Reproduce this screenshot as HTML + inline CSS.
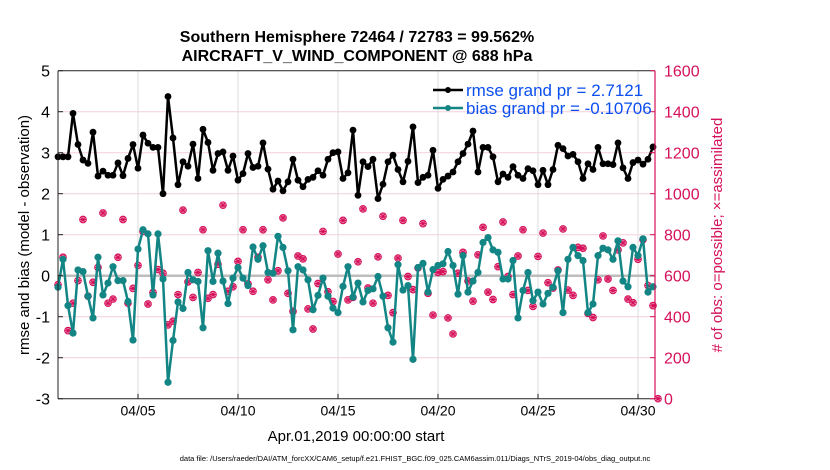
<!DOCTYPE html>
<html><head><meta charset="utf-8"><style>
body{margin:0;background:#fff;}
svg{display:block;font-family:"Liberation Sans",sans-serif;}
</style></head><body>
<svg id="chart" width="830" height="470" xmlns="http://www.w3.org/2000/svg">
<rect width="830" height="470" fill="#fff"/>
<text x="357" y="42" text-anchor="middle" font-size="16" font-weight="bold">Southern Hemisphere 72464 / 72783 = 99.562%</text>
<text x="357" y="61" text-anchor="middle" font-size="16" font-weight="bold">AIRCRAFT_V_WIND_COMPONENT @ 688 hPa</text>
<g id="grid"></g>
<g id="marks"></g>
<g id="axes"></g>
<g id="legend">
 <line x1="433" y1="90" x2="463" y2="90" stroke="#000" stroke-width="2.5"/>
 <circle cx="448" cy="90" r="3" fill="#000"/>
 <text x="466" y="96" font-size="17" fill="#0b4ff0">rmse grand pr = 2.7121</text>
 <line x1="433" y1="108" x2="463" y2="108" stroke="#138585" stroke-width="2.5"/>
 <circle cx="448" cy="108" r="3" fill="#138585"/>
 <text x="466" y="114" font-size="17" fill="#0b4ff0">bias grand pr = -0.10706</text>
</g>
<text transform="translate(29,235) rotate(-90)" text-anchor="middle" font-size="15">rmse and bias (model - observation)</text>
<text transform="translate(722,235) rotate(-90)" text-anchor="middle" font-size="15" fill="#d6105a"># of obs: o=possible; ×=assimilated</text>
<text x="356" y="441" text-anchor="middle" font-size="15">Apr.01,2019 00:00:00 start</text>
<text x="415" y="461" text-anchor="middle" font-size="7.5">data file: /Users/raeder/DAI/ATM_forcXX/CAM6_setup/f.e21.FHIST_BGC.f09_025.CAM6assim.011/Diags_NTrS_2019-04/obs_diag_output.nc</text>
</svg>
<script>
const rmse=[2.9,2.9,2.9,3.96,3.2,2.82,2.74,3.5,2.43,2.55,2.45,2.45,2.75,2.44,2.86,3.2,2.62,3.43,3.23,3.13,
3.13,2.0,4.37,3.36,2.22,2.78,2.67,3.21,2.37,3.57,3.25,2.57,2.98,3.02,2.57,2.92,2.33,2.49,2.98,2.64,
2.67,3.24,2.6,2.11,2.31,2.07,2.29,2.84,2.33,2.17,2.35,2.4,2.56,2.45,2.84,3.0,3.02,2.37,2.51,3.55,
1.96,2.78,2.66,2.84,1.88,2.23,2.78,2.94,2.59,2.29,2.79,3.63,2.27,2.4,2.45,3.06,2.13,2.35,2.43,2.53,
2.78,2.98,3.21,3.53,2.53,3.13,3.13,2.9,2.29,2.48,2.4,2.66,2.45,2.37,2.61,2.56,2.22,2.57,2.22,2.59,
3.18,3.1,2.92,2.96,2.78,2.37,2.73,2.59,3.13,2.73,2.73,2.71,3.24,2.63,2.37,2.76,2.82,2.72,2.84,3.14];
const bias=[-0.28,0.4,-0.73,-1.4,0.14,0.1,-0.5,-1.03,0.45,-0.47,-0.18,0.22,-0.12,-0.12,-0.63,-1.57,0.65,1.12,1.02,-0.47,
1.02,-0.08,-2.6,-1.58,-0.64,-0.8,0.08,-0.1,-0.14,-1.27,0.61,-0.14,0.55,-0.13,-0.68,-0.06,0.2,-0.06,-0.24,0.7,
0.4,0.73,0.08,0.06,0.96,0.69,0.12,-1.32,0.22,0.14,-0.1,-0.83,-0.48,-0.06,-0.5,-0.79,-0.9,-0.26,0.22,-0.52,
-0.18,-0.64,-0.36,-0.32,-0.02,-0.5,-1.27,-1.62,0.27,-0.35,-0.24,-2.04,0.2,0.3,-0.4,0.15,0.25,0.29,0.59,0.25,
-0.45,0.49,-0.4,-0.13,0.08,0.81,0.93,0.63,0.57,-0.08,-0.08,0.37,-1.03,-0.36,0.08,-0.61,-0.4,-0.69,-0.43,-0.28,
0.12,-0.9,0.4,0.69,0.49,0.37,-0.9,-0.69,0.49,0.67,0.63,0.4,0.85,-0.13,-0.27,0.69,0.49,0.9,-0.4,-0.27];
const nobs=[556,690,332,466,576,874,500,568,640,906,466,486,690,874,466,538,650,816,462,518,
630,612,360,378,508,920,570,494,616,824,490,508,656,944,524,546,670,824,560,524,
690,824,580,482,624,882,514,426,696,682,438,340,562,816,522,474,706,870,482,494,
668,926,540,466,692,890,504,420,686,870,596,532,638,854,514,408,616,620,394,316,
612,714,574,476,702,836,520,484,644,862,596,508,696,824,528,450,694,808,566,540,
628,828,530,504,738,734,416,396,580,794,584,528,726,760,486,468,680,776,552,454,0];
const leftTicks=[5,4,3,2,1,0,-1,-2,-3];
const rightTicks=[0,200,400,600,800,1000,1200,1400,1600];
const xTickDays=[4,9,14,19,24,29];
const xTickLabels=["04/05","04/10","04/15","04/20","04/25","04/30"];

const L=58,R=655,T=70.7,B=398.7;
const NS="http://www.w3.org/2000/svg";
function xs(t){return L+t*20;}
function ys(v){return T+(5-v)*(B-T)/8;}
function yr(n){return B-n*(B-T)/1600;}
function mk(tag,attrs,parent){const e=document.createElementNS(NS,tag);for(const k in attrs)e.setAttribute(k,attrs[k]);parent.appendChild(e);return e;}
const grid=document.getElementById('grid'),marks=document.getElementById('marks'),axes=document.getElementById('axes');

leftTicks.forEach(v=>{
  if(v<5&&v>-3){const g=mk('line',{x1:L,x2:R,y1:ys(v),y2:ys(v),stroke:'#f3cfdc','stroke-width':1},grid);
  
  }
});
xTickDays.forEach((d,i)=>{
  const g=mk('line',{x1:xs(d),x2:xs(d),y1:T,y2:B,stroke:'#dcdcdc','stroke-width':1},grid);
  
  
  const tl=mk('text',{x:xs(d),y:B+17,'text-anchor':'middle','font-size':14},axes);
  tl.textContent=xTickLabels[i];
  
  
  mk('line',{x1:xs(d),x2:xs(d),y1:B,y2:B-5,stroke:'#222'},axes);
});
const zl=mk('line',{x1:L,x2:R,y1:ys(0),y2:ys(0),stroke:'#bdbdbd','stroke-width':2.5},grid);



nobs.forEach((n,i)=>{
  const cx=xs(i*0.25),cy=yr(n);
  const g=mk('g',{stroke:'#d6105a','stroke-width':1.1,fill:'none'},marks);
  
  
  mk('circle',{cx:cx,cy:cy,r:3.3},g);
  mk('path',{d:`M${cx-3} ${cy}H${cx+3}M${cx} ${cy-3}V${cy+3}M${cx-2.2} ${cy-2.2}L${cx+2.2} ${cy+2.2}M${cx-2.2} ${cy+2.2}L${cx+2.2} ${cy-2.2}`},g);
});
const bp=mk('polyline',{points:bias.map((v,i)=>xs(i*0.25)+','+ys(v)).join(' '),fill:'none',stroke:'#138585','stroke-width':2.5,'stroke-linejoin':'round'},marks);


bias.forEach((v,i)=>{const c=mk('circle',{cx:xs(i*0.25),cy:ys(v),r:3.6,fill:'#138585'},marks);

});
const rp=mk('polyline',{points:rmse.map((v,i)=>xs(i*0.25)+','+ys(v)).join(' '),fill:'none',stroke:'#000','stroke-width':2.5,'stroke-linejoin':'round'},marks);


rmse.forEach((v,i)=>{const c=mk('circle',{cx:xs(i*0.25),cy:ys(v),r:3.4,fill:'#000'},marks);

});

mk('line',{x1:L,x2:R,y1:T,y2:T,stroke:'#222'},axes);
mk('line',{x1:L,x2:R,y1:B,y2:B,stroke:'#222'},axes);
mk('line',{x1:L,x2:L,y1:T,y2:B,stroke:'#222'},axes);
mk('line',{x1:R,x2:R,y1:T,y2:B,stroke:'#d6105a','stroke-width':1.2},axes);
leftTicks.forEach(v=>{
  mk('line',{x1:L,x2:L+5,y1:ys(v),y2:ys(v),stroke:'#222'},axes);
  const t=mk('text',{x:L-8,y:ys(v)+6,'text-anchor':'end','font-size':16},axes);
  t.textContent=v;
  
  
});
rightTicks.forEach(n=>{
  mk('line',{x1:R,x2:R-5,y1:yr(n),y2:yr(n),stroke:'#d6105a'},axes);
  const t=mk('text',{x:R+9,y:yr(n)+6,'font-size':16,fill:'#d6105a'},axes);
  t.textContent=n;
  
  
});
</script>
</body></html>
